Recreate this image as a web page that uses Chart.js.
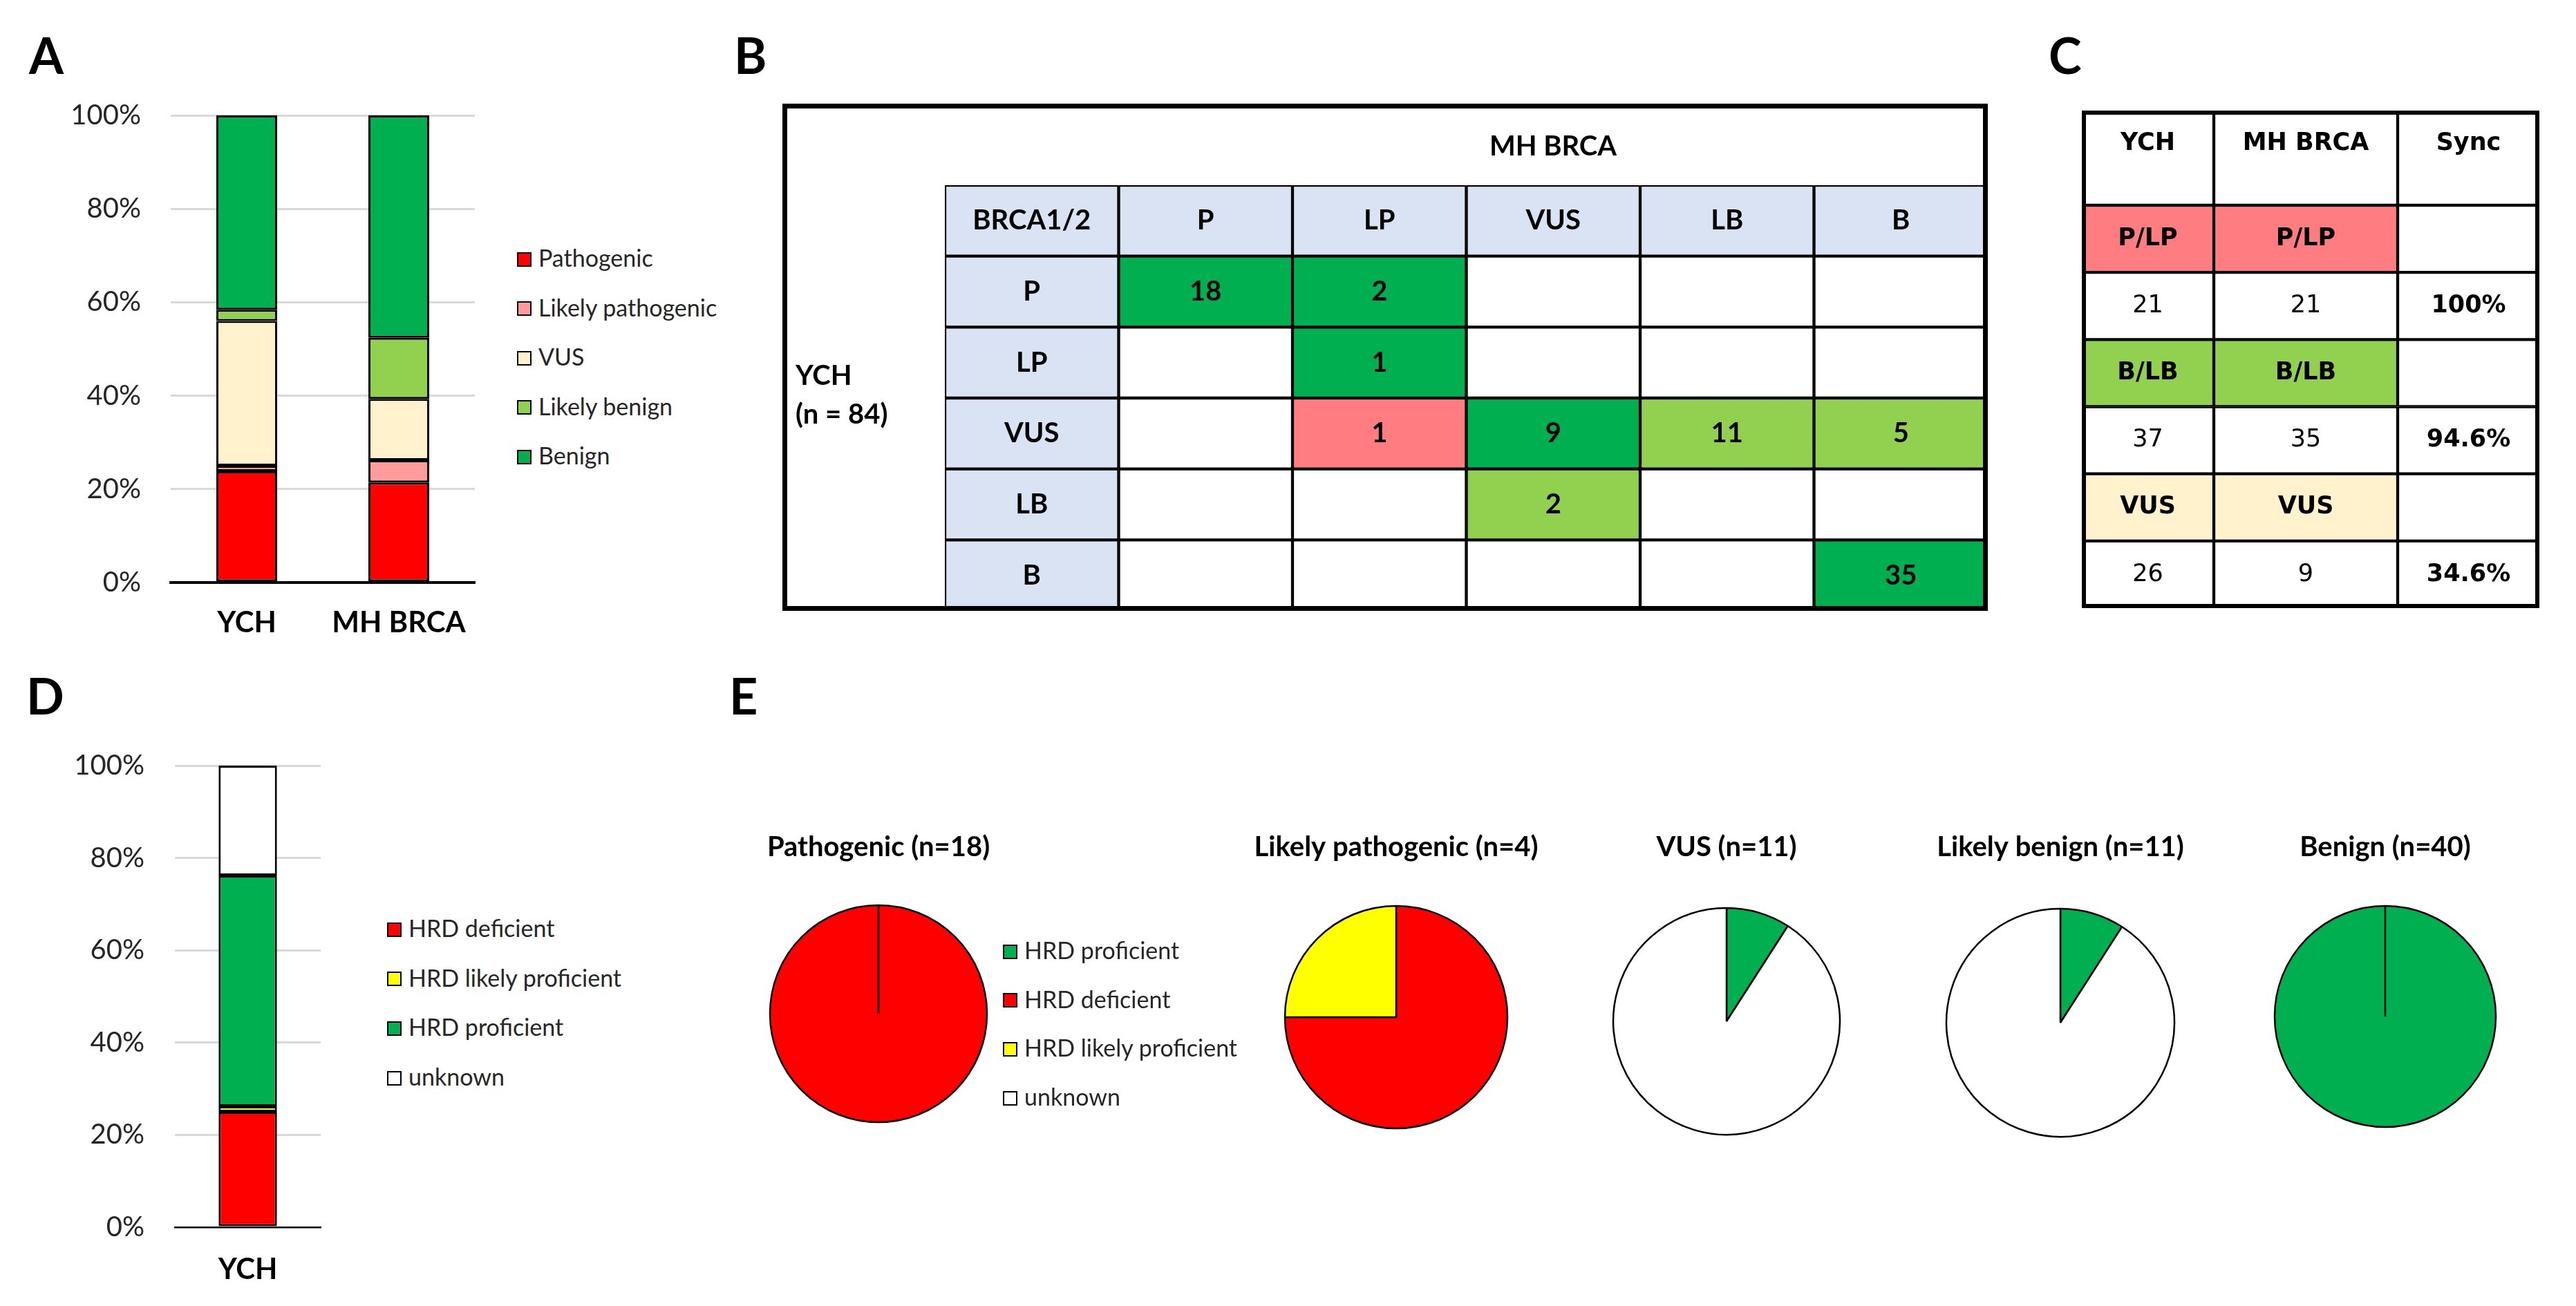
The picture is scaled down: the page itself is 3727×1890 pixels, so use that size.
<!DOCTYPE html>
<html>
<head>
<meta charset="utf-8">
<script src="https://cdn.jsdelivr.net/npm/chart.js@4.4.1/dist/chart.umd.min.js"></script>
<style>
  body { margin: 0; background: #fff; }
  #page { position: relative; width: 3727px; height: 1890px; overflow: hidden; font-family: Lato, sans-serif; }
  canvas { position: absolute; }
  .letter { position: absolute; font: bold 72px Lato; line-height: 72px; color: #000; }
  .lbl { position: absolute; font: bold 40px Lato; line-height: 48px; color: #000; white-space: nowrap; }
  .frame { position: absolute; box-sizing: border-box; border: 7px solid #000; }
  .lg-box { position: absolute; width: 21px; height: 21px; box-sizing: border-box; border: 2.5px solid #000; }
  .lg-text { position: absolute; font: 34px Lato; line-height: 40px; color: #262626; white-space: nowrap; }
</style>
</head>
<body>
<div id="page">
  <div class="letter" style="left:42px;top:43px">A</div>
  <div class="letter" style="left:1062px;top:43px">B</div>
  <div class="letter" style="left:2964px;top:43px">C</div>
  <div class="letter" style="left:38px;top:970px">D</div>
  <div class="letter" style="left:1055px;top:970px">E</div>

  <canvas id="chartA" width="740" height="833" style="left:0;top:100px"></canvas>
  <canvas id="chartD" width="520" height="821" style="left:0;top:1040px"></canvas>

  <canvas id="tableB" width="1509" height="616" style="left:1367px;top:268px"></canvas>
  <div class="frame" style="left:1132px;top:150px;width:1744px;height:734px"></div>
  <div class="lbl" style="left:2247px;top:186px;transform:translateX(-50%)">MH BRCA</div>
  <div class="lbl" style="left:1151px;top:518px">YCH</div>
  <div class="lbl" style="left:1151px;top:574px">(n = 84)</div>

  <canvas id="tableCHead" width="662" height="137" style="left:3012px;top:160px"></canvas>
  <canvas id="tableCBody" width="662" height="583" style="left:3012px;top:297px"></canvas>
  <div class="frame" style="left:3012px;top:160px;width:662px;height:720px;border-width:6px"></div>
</div>

<script>
// ---- data ----
const labNames = ["YCH", "MH BRCA"];
const classLabels = ["Pathogenic", "Likely pathogenic", "VUS", "Likely benign", "Benign"];
const ychPct = [23.8, 1.2, 31.0, 2.4, 41.6];
const mhPct = [21.4, 4.8, 13.1, 13.1, 47.6];

const hrdLabels = ["HRD deficient", "HRD likely proficient", "HRD proficient", "unknown"];
const hrdYchPct = [25.0, 1.2, 50.0, 23.8];

const bHeader = "BRCA1/2";
const bClasses = ["P", "LP", "VUS", "LB", "B"];
const bMatrix = [
  [18, 2, null, null, null],
  [null, 1, null, null, null],
  [null, 1, 9, 11, 5],
  [null, null, 2, null, null],
  [null, null, null, null, 35],
];

const cHeader = ["YCH", "MH BRCA", "Sync"];
const cGroups = ["P/LP", "B/LB", "VUS"];
const cYch = [21, 37, 26];
const cMh = [21, 35, 9];
const cSync = ["100%", "94.6%", "34.6%"];

const pieTitles = ["Pathogenic (n=18)", "Likely pathogenic (n=4)", "VUS (n=11)", "Likely benign (n=11)", "Benign (n=40)"];
const pieLabels = ["HRD proficient", "HRD deficient", "HRD likely proficient", "unknown"];
const pieCounts = [
  [0, 18, 0, 0],
  [0, 3, 1, 0],
  [1, 0, 0, 10],
  [1, 0, 0, 10],
  [40, 0, 0, 0],
];

// ---- styles ----
const classColors = ["#ff0000", "#ff9b9b", "#fff2cc", "#92d050", "#00b050"];
const hrdColors = ["#ff0000", "#ffff00", "#00b050", "#ffffff"];
const pieColors = ["#00b050", "#ff0000", "#ffff00", "#ffffff"];
const HEAD = "#dae3f3";
const toneFill = { g: "#00b050", lg: "#92d050", pk: "#ff7c80", "": "#ffffff" };
const bTone = [
  ["g", "g", "", "", ""],
  ["", "g", "", "", ""],
  ["", "pk", "g", "lg", "lg"],
  ["", "", "lg", "", ""],
  ["", "", "", "", "g"],
];
const cGroupFill = ["#ff7c80", "#92d050", "#fff2cc"];
const cColWidths = [191, 266, 205];

Chart.defaults.font.family = "Lato, 'Open Sans', sans-serif";
const page = document.getElementById("page");

// html legend built from the chart's own legend items
function htmlLegend(chart, box) {
  const items = chart.options.plugins.legend.labels.generateLabels(chart);
  items.forEach((it, k) => {
    const cy = box.top + k * box.step;
    const sq = document.createElement("div");
    sq.className = "lg-box";
    sq.style.left = box.left + "px";
    sq.style.top = cy - 10.5 + "px";
    sq.style.background = it.fillStyle;
    page.appendChild(sq);
    const tx = document.createElement("div");
    tx.className = "lg-text";
    tx.textContent = it.text;
    tx.style.left = box.left + 31 + "px";
    tx.style.top = cy - 22 + "px";
    page.appendChild(tx);
  });
}

// stacked 100% bars (panels A and D)
function barPanel(id, labels, datasets, g) {
  const canvas = document.getElementById(id);
  const chart = new Chart(canvas, {
    type: "bar",
    data: {
      labels,
      datasets: datasets.map((d) =>
        Object.assign(
          { borderColor: "#000", borderWidth: 3, borderSkipped: false, barPercentage: 0.4, categoryPercentage: 1 },
          d
        )
      ),
    },
    options: {
      responsive: false,
      animation: false,
      devicePixelRatio: 1,
      events: [],
      layout: { padding: { top: g.padTop, right: canvas.width - g.areaRight, left: 0, bottom: 0 } },
      plugins: { tooltip: { enabled: false }, legend: { display: false } },
      scales: {
        x: {
          stacked: true,
          grid: { display: false, drawTicks: false },
          border: { color: "#000", width: g.axisLine },
          ticks: { padding: g.xPad, color: "#000", font: { size: 42, weight: "bold" } },
          afterFit: (s) => { s.height = g.xHeight; },
        },
        y: {
          stacked: true,
          min: 0,
          max: 100,
          ticks: { stepSize: 20, padding: g.yPad, color: "#262626", font: { size: 40 }, callback: (v) => v + "%" },
          grid: {
            color: (c) => (c.tick && c.tick.value === 0 ? "rgba(0,0,0,0)" : "#d9d9d9"),
            lineWidth: 3,
            drawTicks: false,
          },
          border: { display: false },
          afterFit: (s) => { s.width = g.yWidth; },
        },
      },
    },
  });
  htmlLegend(chart, g.legend);
  return chart;
}

barPanel(
  "chartA",
  labNames,
  classLabels.map((name, k) => ({ label: name, data: [ychPct[k], mhPct[k]], backgroundColor: classColors[k] })),
  { padTop: 64, areaRight: 687, axisLine: 4, xPad: 33, xHeight: 90, yPad: 43, yWidth: 247,
    legend: { left: 748, top: 375, step: 71.5 } }
);

barPanel(
  "chartD",
  ["YCH"],
  hrdLabels.map((name, k) => ({ label: name, data: [hrdYchPct[k]], backgroundColor: hrdColors[k] })),
  { padTop: 62, areaRight: 464, axisLine: 2.5, xPad: 36, xHeight: 85, yPad: 44, yWidth: 253,
    legend: { left: 560, top: 1345, step: 71.7 } }
);

// tables drawn as floating horizontal bars, one dataset per column
const cellText = (grid) => ({
  id: "cellText",
  afterDatasetsDraw(chart) {
    const ctx = chart.ctx;
    chart.data.datasets.forEach((ds, c) => {
      chart.getDatasetMeta(c).data.forEach((bar, r) => {
        const cell = grid[r][c];
        if (!cell.text) return;
        ctx.save();
        ctx.font = cell.font;
        ctx.fillStyle = "#000";
        ctx.textAlign = "center";
        ctx.textBaseline = "middle";
        ctx.fillText(cell.text, (bar.x + bar.base) / 2, bar.y + (cell.dy || 0));
        ctx.restore();
      });
    });
  },
});

function tablePanel(id, grid, edges, lineW) {
  const datasets = [];
  for (let c = 0; c < edges.length - 1; c++) {
    datasets.push({
      data: grid.map(() => [edges[c], edges[c + 1]]),
      backgroundColor: grid.map((row) => row[c].fill),
      borderColor: "#000",
      borderWidth: lineW,
      borderSkipped: false,
      grouped: false,
      barPercentage: 1,
      categoryPercentage: 1,
    });
  }
  return new Chart(document.getElementById(id), {
    type: "bar",
    data: { labels: grid.map((_, r) => "row" + r), datasets },
    options: {
      indexAxis: "y",
      responsive: false,
      animation: false,
      devicePixelRatio: 1,
      events: [],
      layout: { padding: 0 },
      plugins: { legend: { display: false }, tooltip: { enabled: false } },
      scales: {
        x: { type: "linear", display: false, min: edges[0], max: edges[edges.length - 1] },
        y: { display: false },
      },
    },
    plugins: [cellText(grid)],
  });
}

// panel B
const bFont = "bold 40px Lato";
const bGrid = [[bHeader, ...bClasses].map((t) => ({ text: t, fill: HEAD, font: bFont }))];
bClasses.forEach((rowName, r) => {
  bGrid.push([
    { text: rowName, fill: HEAD, font: bFont },
    ...bMatrix[r].map((v, c) => ({ text: v == null ? "" : String(v), fill: toneFill[bTone[r][c]], font: bFont })),
  ]);
});
tablePanel("tableB", bGrid, [0, 1, 2, 3, 4, 5, 6], 2.5);

// panel C
const cBold = "bold 35px 'DejaVu Sans'";
const cReg = "35px 'DejaVu Sans'";
const cEdges = cColWidths.reduce((acc, w) => acc.concat(acc[acc.length - 1] + w), [0]);
tablePanel("tableCHead", [cHeader.map((t) => ({ text: t, fill: "#ffffff", font: cBold, dy: -21 }))], cEdges, 2.5);
const cBody = [];
cGroups.forEach((grp, k) => {
  cBody.push([
    { text: grp, fill: cGroupFill[k], font: cBold },
    { text: grp, fill: cGroupFill[k], font: cBold },
    { text: "", fill: "#ffffff" },
  ]);
  cBody.push([
    { text: String(cYch[k]), fill: "#ffffff", font: cReg },
    { text: String(cMh[k]), fill: "#ffffff", font: cReg },
    { text: cSync[k], fill: "#ffffff", font: cBold },
  ]);
});
tablePanel("tableCBody", cBody, cEdges, 2.5);

// panel E: one pie per class
const pieGeom = [
  { cx: 1271, cy: 1467, r: 157 },
  { cx: 2020, cy: 1472, r: 161 },
  { cx: 2498, cy: 1478, r: 164 },
  { cx: 2981, cy: 1480, r: 165 },
  { cx: 3451, cy: 1471, r: 160 },
];
const PIE_TITLE_Y = 1226;

pieGeom.forEach((g, i) => {
  const half = 270;
  const top = PIE_TITLE_Y - 24;
  const areaTop = g.cy - g.r - 6;
  const cv = document.createElement("canvas");
  cv.width = 2 * half;
  cv.height = g.cy + g.r + 6 - top;
  cv.style.left = g.cx - half + "px";
  cv.style.top = top + "px";
  page.appendChild(cv);

  const chart = new Chart(cv, {
    type: "pie",
    data: {
      labels: pieLabels,
      datasets: [{
        data: pieCounts[i], backgroundColor: pieColors, borderColor: "#000",
        borderWidth: 2.5, radius: g.r, clip: false,
      }],
    },
    options: {
      responsive: false,
      animation: false,
      devicePixelRatio: 1,
      events: [],
      radius: g.r,
      layout: { padding: 0 },
      plugins: {
        tooltip: { enabled: false },
        legend: { display: false },
        title: {
          display: true,
          text: pieTitles[i],
          color: "#000",
          font: { size: 40, weight: "bold" },
          padding: { top: 0, bottom: areaTop - (top + 48) },
        },
      },
    },
  });
  if (i === 0) htmlLegend(chart, { left: 1451, top: 1377, step: 70.7 });
});
</script>
</body>
</html>
